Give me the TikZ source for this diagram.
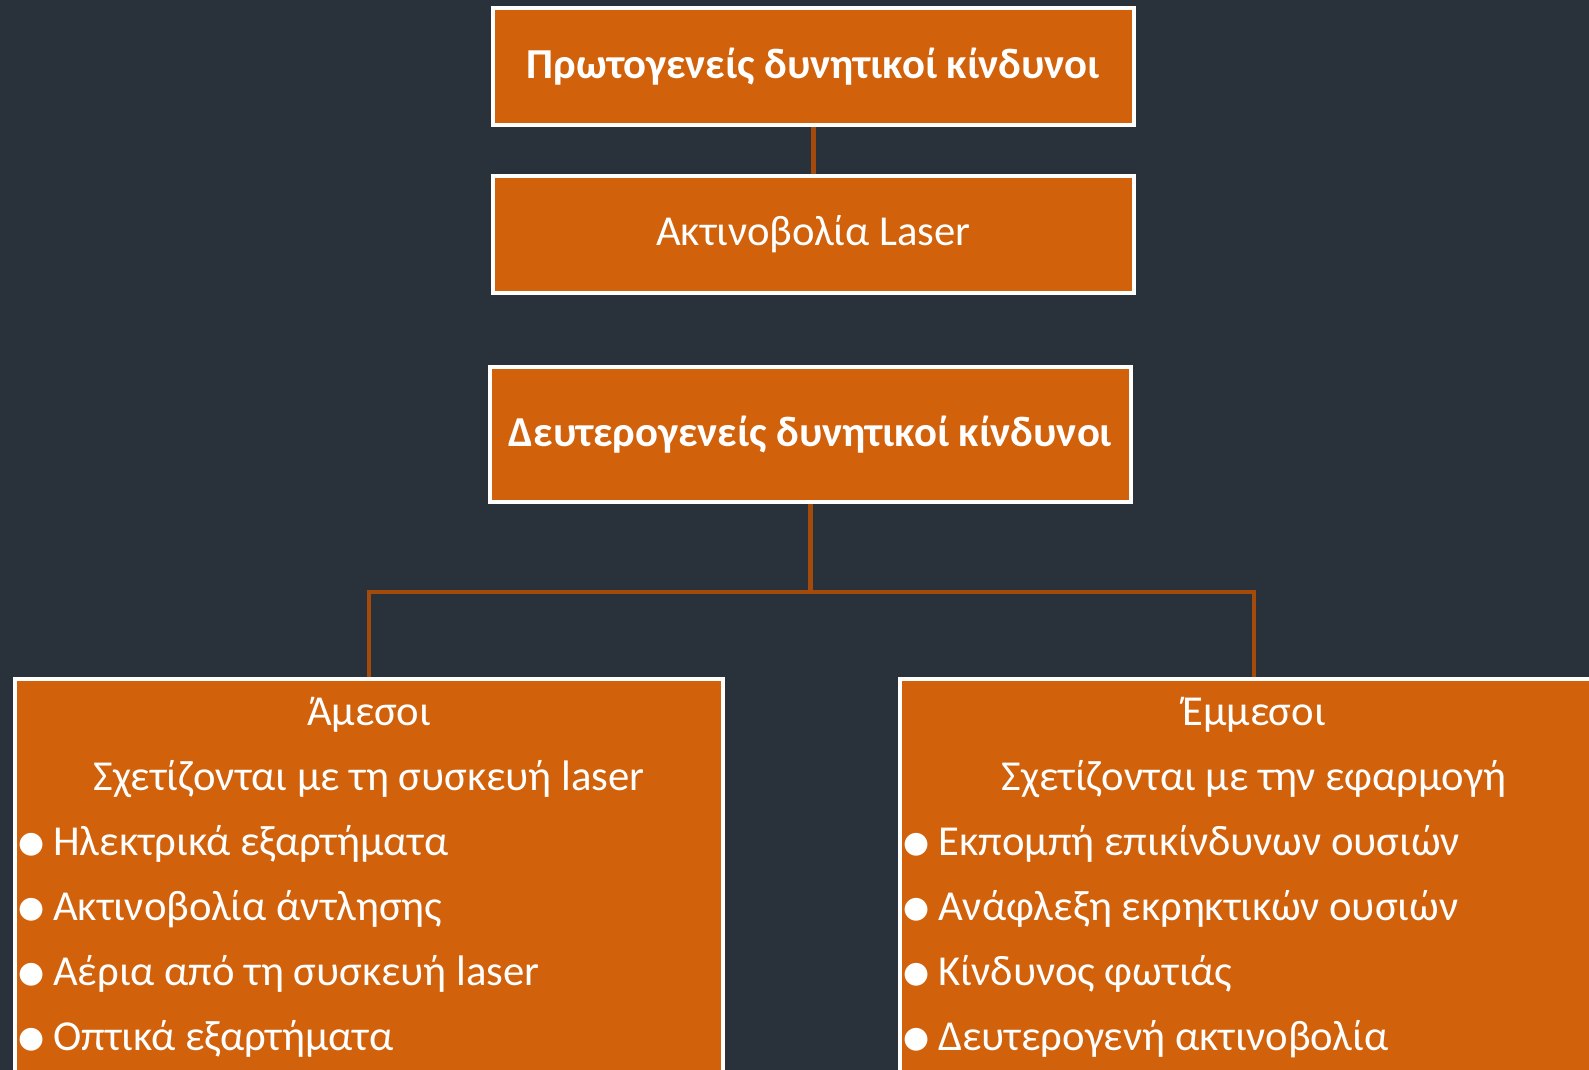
\documentclass[tikz,border=0pt]{standalone}
\usepackage{fontspec}
\setmainfont{Carlito}
\newfontfamily\bulletfont{DejaVu Sans}
\usetikzlibrary{positioning}

\definecolor{slatebg}{HTML}{29313A}
\definecolor{hazardfill}{HTML}{D1610B}
\definecolor{linkbrown}{HTML}{A44B0C}

\newcommand{\hazbullet}{\raisebox{1.6pt}{\bulletfont\fontsize{17}{17}\selectfont ●}\hspace{5pt}}

\begin{document}
\begin{tikzpicture}[x=0.02cm, y=-0.02cm,
      font=\fontsize{24.3}{29}\selectfont,
      hazard/.style={draw=white, line width=2.3pt, fill=hazardfill,
        text=white, align=center, inner sep=0pt,
        minimum width=12.82cm, minimum height=2.34cm},
      category/.style={draw=white, line width=2.3pt, fill=hazardfill,
        minimum width=14.16cm, minimum height=9.02cm, inner sep=0pt},
      heading/.style={text=white, anchor=base, inner sep=0pt},
      item/.style={text=white, anchor=base west, inner sep=0pt},
      link/.style={draw=linkbrown, line width=2.3pt}
    ]
    \useasboundingbox (0,0) rectangle (1589,1070);
    \clip (0,0) rectangle (1589,1070);
    \fill[slatebg] (0,0) rectangle (1589,1070);

    % top of the tree
    \node[hazard, font=\fontsize{24.3}{29}\selectfont\bfseries] (primary) at (813.5,66.5)
      {Πρωτογενείς δυνητικοί κίνδυνοι};
    \node[hazard] (laser) at (813.5,234.5) {Ακτινοβολία Laser};
    \node[hazard, minimum height=2.7cm, font=\fontsize{24.3}{29}\selectfont\bfseries]
      (secondary) at (810.5,434.5) {Δευτερογενείς δυνητικοί κίνδυνοι};

    % the two branches
    \node[category] (direct) at (369,904.5) {};
    \node[category] (indirect) at (1254,904.5) {};

    \draw[link] (primary.south) -- (laser.north);
    \draw[link] (secondary.south) -- ++(0,88) -| (direct.north);
    \draw[link] (secondary.south) -- ++(0,88) -| (indirect.north);

    \node[heading] (directname) at (369,725) {Άμεσοι};
    \node[heading] (directnote) at (369,790) {Σχετίζονται με τη συσκευή laser};
    \node[heading] (indirectname) at (1254,725) {Έμμεσοι};
    \node[heading] (indirectnote) at (1254,790) {Σχετίζονται με την εφαρμογή};

    \foreach \txt [count=\i] in {Ηλεκτρικά εξαρτήματα, Ακτινοβολία άντλησης,
        Αέρια από τη συσκευή laser, Οπτικά εξαρτήματα}
      \node[item] (direct\i) at (18,790+65*\i) {\hazbullet\txt};
    \foreach \txt [count=\i] in {Εκπομπή επικίνδυνων ουσιών, Ανάφλεξη εκρηκτικών ουσιών,
        Κίνδυνος φωτιάς, Δευτερογενή ακτινοβολία}
      \node[item] (indirect\i) at (903,790+65*\i) {\hazbullet\txt};
  \end{tikzpicture}
\end{document}
